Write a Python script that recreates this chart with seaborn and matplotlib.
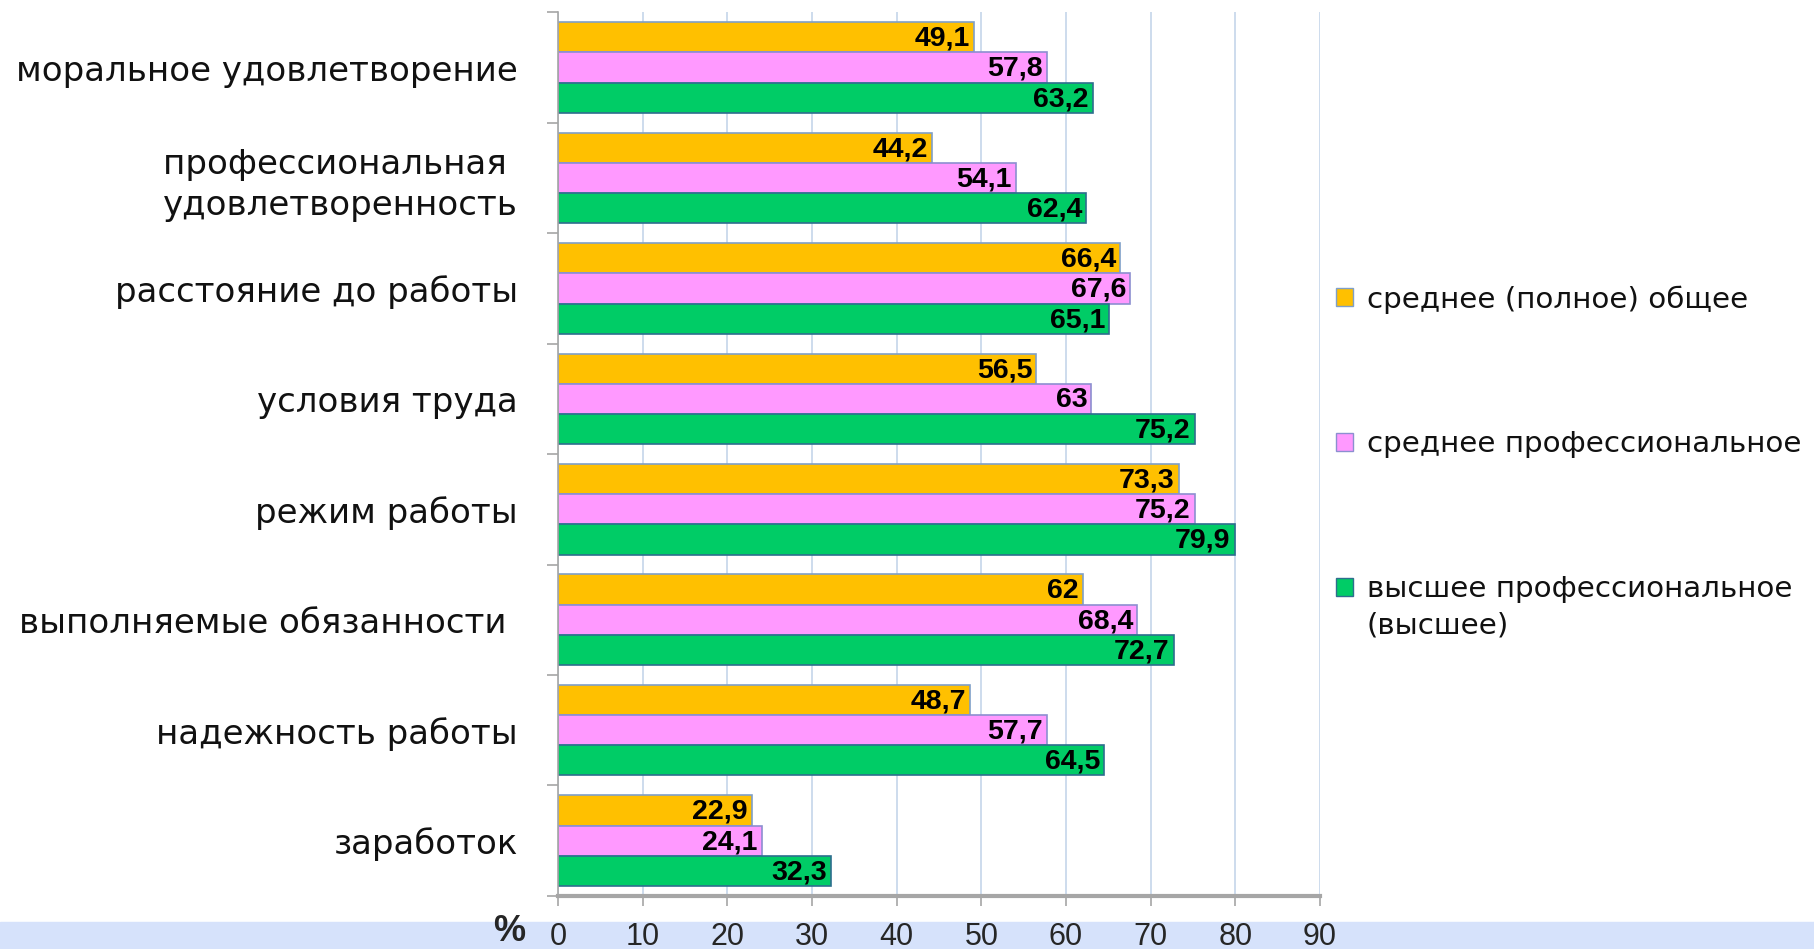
import pandas as pd
import matplotlib
matplotlib.use("Agg")
import matplotlib.pyplot as plt
import matplotlib.patches as mpatches
import seaborn as sns

# data
categories = ["моральное удовлетворение",
              "профессиональная \nудовлетворенность",
              "расстояние до работы",
              "условия труда",
              "режим работы",
              "выполняемые обязанности ",
              "надежность работы",
              "заработок"]
series = ["среднее (полное) общее",
          "среднее профессиональное",
          "высшее профессиональное\n(высшее)"]
general = [49.1, 44.2, 66.4, 56.5, 73.3, 62, 48.7, 22.9]
vocational = [57.8, 54.1, 67.6, 63, 75.2, 68.4, 57.7, 24.1]
higher = [63.2, 62.4, 65.1, 75.2, 79.9, 72.7, 64.5, 32.3]
xticks = [0, 10, 20, 30, 40, 50, 60, 70, 80, 90]

colors = ["#FFC000", "#FF99FF", "#00CC66"]
edges = ["#7F9FC8", "#8C8FD0", "#2E6E8E"]

df = pd.DataFrame({
    "cat": categories * 3,
    "group": [series[0]] * 8 + [series[1]] * 8 + [series[2]] * 8,
    "value": general + vocational + higher,
})

sns.set_style("white")
num_font = ["Liberation Sans", "DejaVu Sans"]

fig = plt.figure(figsize=(18.15, 9.49), dpi=100)
ax = fig.add_axes([0.3074, 0.056, 0.4199, 0.931])

sns.barplot(data=df, y="cat", x="value", hue="group", orient="h",
            palette=colors, width=0.82, ax=ax, legend=True,
            saturation=1)

# bar edges and value labels
for i, cont in enumerate(ax.containers):
    for p in cont.patches:
        p.set_edgecolor(edges[i])
        p.set_linewidth(1.2)
        w = p.get_width()
        txt = f"{w:g}".replace(".", ",")
        ax.annotate(txt, (w, p.get_y() + p.get_height() / 2),
                    xytext=(-3, -1), textcoords="offset points",
                    ha="right", va="center", fontsize=20.5,
                    fontweight="bold", family=num_font, color="black")

ax.set_xlim(0, 90)
ax.set_ylim(len(categories) - 0.5, -0.5)
ax.set_xticks(xticks)
ax.set_xticklabels([str(t) for t in xticks], family=num_font, fontsize=22)
ax.set_xlabel("")
ax.set_ylabel("")
ax.tick_params(axis="x", direction="out", length=7, width=1.2,
               color="#A6A6A6", pad=12, bottom=True)
ax.tick_params(axis="y", length=0, pad=29, labelsize=24.5)
for lab in ax.get_yticklabels():
    lab.set_family("DejaVu Sans")
    lab.set_color("#111111")
    lab.set_linespacing(1.3)

# category separators on the left axis
ax.set_yticks([k + 0.5 for k in range(-1, len(categories))], minor=True)
ax.tick_params(axis="y", which="minor", direction="out", length=8,
               width=1.2, color="#A6A6A6", left=True)

ax.grid(axis="x", color="#C5D5EA", linewidth=1.2)
ax.set_axisbelow(True)
for s in ["top", "right"]:
    ax.spines[s].set_visible(False)
ax.spines["left"].set_color("#A6A6A6")
ax.spines["left"].set_linewidth(1.2)
ax.spines["bottom"].set_color("#A6A6A6")
ax.spines["bottom"].set_linewidth(3)

# decorative strip behind the tick labels
fig.patches.append(mpatches.Rectangle((0, 0), 1, 0.028, transform=fig.transFigure,
                                      color="#D6E2FB", zorder=-5))

fig.text(0.2804, 0.0185, "%", fontsize=26, fontweight="bold",
         family=num_font, ha="center", va="center")

handles, labels = ax.get_legend_handles_labels()
ax.get_legend().remove()
for h, ec in zip(handles, edges):
    h.set_edgecolor(ec)
first_lines = [lab.split("\n")[0] for lab in labels]
leg = fig.legend(handles, first_lines, loc="upper left",
                 bbox_to_anchor=(0.7295, 0.712), frameon=False,
                 fontsize=21.2, labelspacing=3.97, handlelength=0.6,
                 handleheight=0.6, handletextpad=0.45, borderaxespad=0)
for txt, lab in zip(leg.get_texts(), labels):
    if "\n" in lab:
        fig.canvas.draw()
        ax.annotate(lab.split("\n")[1], xy=(0, 0), xycoords=txt,
                    xytext=(0, -6), textcoords="offset points",
                    ha="left", va="top", fontsize=21.2,
                    family="DejaVu Sans", color="#111111",
                    annotation_clip=False)
for txt in leg.get_texts():
    txt.set_color("#111111")

plt.savefig("out.png", dpi=100)
